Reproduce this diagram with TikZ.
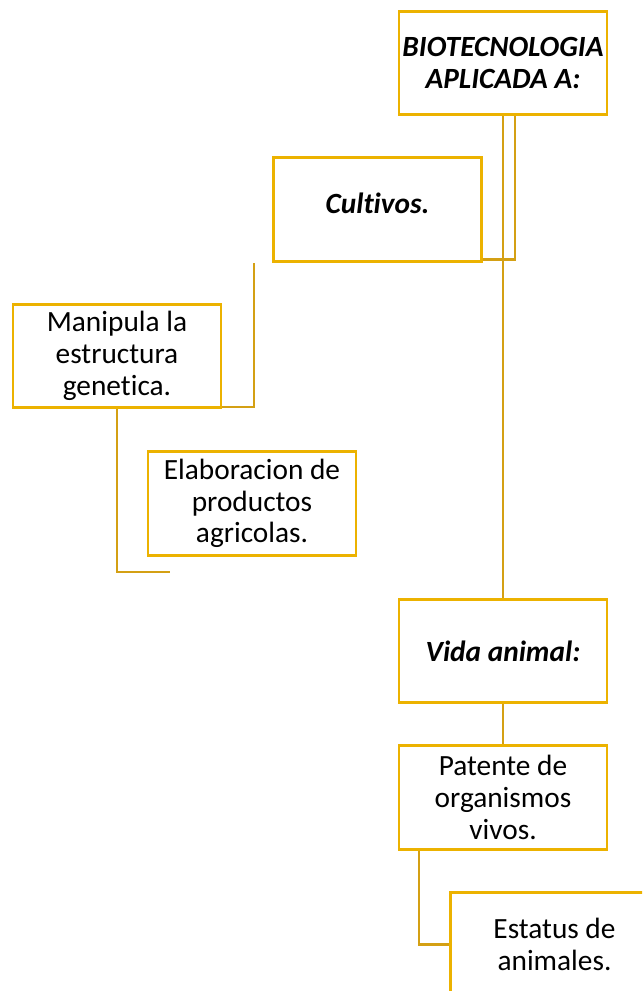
\documentclass[tikz,border=0pt]{standalone}
\usepackage{fontspec}
\setmainfont{Carlito}[Ligatures=NoCommon]
\usetikzlibrary{positioning}

\definecolor{oro}{RGB}{236,178,0}
\definecolor{orolinea}{RGB}{212,160,20}

\tikzset{
	caja/.style={draw=oro, line width=2.2pt, fill=white, inner sep=0pt, align=center,
		minimum width=156pt, minimum height=77.5pt, font=\fontsize{22}{23.8}\selectfont},
	titulo/.style={caja, font=\fontsize{22}{24.5}\selectfont\bfseries\itshape},
	enlace/.style={draw=orolinea, line width=1.9pt}
}

\begin{document}
\begin{tikzpicture}[x=0.75pt,y=-0.75pt]
		\useasboundingbox (0,0) rectangle (642,991);
		\clip (0,0) rectangle (642,991);
		% cajas
		\node[titulo] (bio) at (503,63) {BIOTECNOLOGIA\\APLICADA A:};
		\node[titulo, text depth=10pt] (cultivos) at (377.5,209.5) {Cultivos.};
		\node[caja] (manipula) at (117,356) {Manipula la\\estructura\\genetica.};
		\node[caja] (elabora) at (252,503.5) {Elaboracion de\\productos\\agricolas.};
		\node[titulo] (vida) at (503,651) {Vida animal:};
		\node[caja] (patente) at (503,797.5) {Patente de\\organismos\\vivos.};
		\node[caja] (estatus) at (554.5,944.5) {Estatus de\\animales.};
		% puntos sueltos
		\coordinate (c1) at (254,263);
		\coordinate (c2) at (170,572);
		% enlaces
		\draw[enlace] (bio.south) -- (vida.north);
		\draw[enlace] ([xshift=9pt]bio.south) |- ([yshift=2.5pt]cultivos.south east);
		\draw[enlace] (c1) |- ([yshift=1.5pt]manipula.south east);
		\draw[enlace] (manipula.south) |- (c2);
		\draw[enlace] (vida.south) -- (patente.north);
		\draw[enlace] ([xshift=16pt]patente.south west) |- (estatus.west);
		
		\end{tikzpicture}
\end{document}
